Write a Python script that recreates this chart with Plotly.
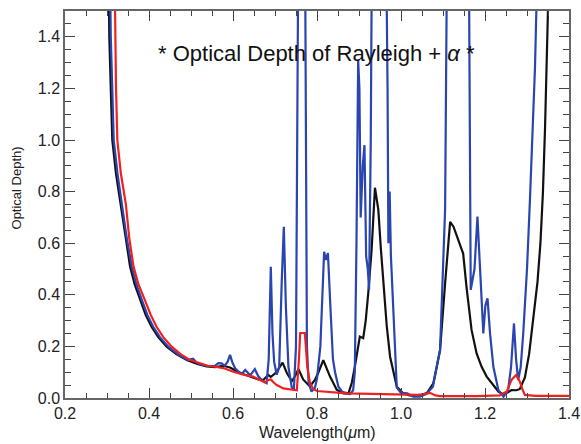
import plotly.graph_objects as go

# ---- data ----
lam_black = [0.300, 0.3055, 0.309, 0.3126, 0.3214, 0.3326, 0.343, 0.355, 0.366, 0.379, 0.392, 0.406,
             0.422, 0.442, 0.465, 0.490, 0.515, 0.537, 0.557, 0.577, 0.593, 0.609, 0.617, 0.632,
             0.648, 0.660, 0.672, 0.684, 0.690, 0.700, 0.708, 0.718, 0.728, 0.740, 0.748, 0.756,
             0.767, 0.783, 0.795, 0.803, 0.815, 0.823, 0.831, 0.847, 0.855, 0.875, 0.883, 0.890,
             0.902, 0.910, 0.916, 0.922, 0.930, 0.938, 0.946, 0.952, 0.958, 0.966, 0.974, 0.990,
             1.005, 1.020, 1.045, 1.062, 1.077, 1.093, 1.105, 1.117, 1.125, 1.140, 1.148, 1.156,
             1.168, 1.180, 1.192, 1.204, 1.216, 1.232, 1.242, 1.255, 1.263, 1.275, 1.283, 1.295,
             1.305, 1.315, 1.325, 1.332, 1.338, 1.343, 1.350, 1.356]
tau_black = [2.2, 1.40, 1.20, 1.00, 0.87, 0.75, 0.62, 0.509, 0.44, 0.38, 0.322, 0.276,
             0.236, 0.199, 0.170, 0.147, 0.132, 0.122, 0.120, 0.125, 0.118, 0.104, 0.097, 0.088,
             0.078, 0.072, 0.070, 0.089, 0.082, 0.095, 0.112, 0.137, 0.098, 0.065, 0.085, 0.112,
             0.072, 0.045, 0.070, 0.098, 0.147, 0.115, 0.083, 0.032, 0.024, 0.018, 0.060, 0.120,
             0.238, 0.232, 0.300, 0.406, 0.574, 0.815, 0.730, 0.580, 0.444, 0.280, 0.160, 0.044,
             0.018, 0.010, 0.008, 0.020, 0.057, 0.186, 0.444, 0.683, 0.664, 0.593, 0.560, 0.430,
             0.264, 0.173, 0.121, 0.083, 0.057, 0.025, 0.015, 0.022, 0.031, 0.030, 0.035, 0.080,
             0.170, 0.300, 0.450, 0.600, 0.800, 1.050, 1.500, 1.900]

lam_blue = [0.303, 0.309, 0.3125, 0.316, 0.325, 0.336, 0.347, 0.359, 0.370, 0.383, 0.396, 0.410,
            0.426, 0.446, 0.468, 0.492, 0.505, 0.515, 0.537, 0.557, 0.565, 0.573, 0.580, 0.587,
            0.593, 0.598, 0.605, 0.615, 0.622, 0.629, 0.636, 0.641, 0.652, 0.660, 0.668, 0.680,
            0.685, 0.690, 0.694, 0.698, 0.704, 0.710, 0.716, 0.721, 0.726, 0.732, 0.740, 0.745,
            0.750, 0.755, 0.760, 0.764, 0.768, 0.772, 0.776, 0.780, 0.787, 0.795, 0.800, 0.808,
            0.814, 0.817, 0.821, 0.826, 0.832, 0.838, 0.843, 0.851, 0.863, 0.879, 0.886, 0.890,
            0.894, 0.898, 0.901, 0.904, 0.909, 0.913, 0.917, 0.921, 0.924, 0.928, 0.931, 0.945,
            0.960, 0.966, 0.968, 0.970, 0.973, 0.976, 0.983, 0.990, 1.000, 1.015, 1.029, 1.045,
            1.060, 1.076, 1.093, 1.105, 1.109, 1.120, 1.150, 1.162, 1.166, 1.175, 1.182, 1.190,
            1.196, 1.201, 1.206, 1.212, 1.220, 1.232, 1.244, 1.255, 1.262, 1.269, 1.274, 1.279,
            1.285, 1.291, 1.300, 1.307, 1.315, 1.319, 1.323, 1.330]
tau_blue = [2.2, 1.40, 1.20, 1.00, 0.87, 0.75, 0.62, 0.509, 0.44, 0.38, 0.322, 0.276,
            0.236, 0.199, 0.170, 0.147, 0.152, 0.135, 0.124, 0.125, 0.135, 0.134, 0.125, 0.140,
            0.167, 0.140, 0.115, 0.100, 0.095, 0.109, 0.095, 0.088, 0.112, 0.085, 0.070, 0.058,
            0.150, 0.509, 0.250, 0.140, 0.090, 0.120, 0.450, 0.664, 0.350, 0.121, 0.040, 0.035,
            0.200, 1.600, 3.000, 2.000, 2.600, 1.600, 0.200, 0.060, 0.025, 0.040, 0.075, 0.200,
            0.450, 0.567, 0.535, 0.562, 0.350, 0.150, 0.100, 0.044, 0.018, 0.015, 0.030, 0.100,
            0.600, 1.310, 1.200, 0.700, 0.900, 0.980, 0.550, 0.500, 0.420, 1.000, 1.800, 3.000,
            2.500, 1.600, 1.200, 0.600, 0.800, 0.550, 0.300, 0.040, 0.020, 0.018, 0.005, 0.005,
            0.015, 0.044, 0.186, 0.730, 1.600, 3.000, 3.000, 1.600, 0.419, 0.500, 0.703, 0.450,
            0.250, 0.360, 0.386, 0.250, 0.120, 0.030, 0.005, 0.030, 0.120, 0.289, 0.150, 0.070,
            0.120, 0.250, 0.500, 0.767, 1.100, 1.280, 1.550, 2.500]

lam_red = [0.314, 0.319, 0.3215, 0.3246, 0.333, 0.345, 0.353, 0.363, 0.375, 0.390, 0.404, 0.418,
           0.434, 0.454, 0.475, 0.498, 0.520, 0.540, 0.557, 0.577, 0.601, 0.625, 0.648, 0.665,
           0.676, 0.684, 0.690, 0.697, 0.704, 0.720, 0.743, 0.752, 0.757, 0.760, 0.771, 0.777,
           0.783, 0.791, 0.800, 0.847, 0.871, 0.930, 0.990, 1.040, 1.055, 1.069, 1.082, 1.093,
           1.180, 1.235, 1.252, 1.263, 1.274, 1.283, 1.290, 1.295, 1.320, 1.400]
tau_red = [2.2, 1.40, 1.20, 1.00, 0.87, 0.75, 0.62, 0.51, 0.44, 0.38, 0.322, 0.276,
           0.236, 0.199, 0.170, 0.147, 0.134, 0.125, 0.121, 0.116, 0.102, 0.090, 0.083, 0.068,
           0.060, 0.070, 0.072, 0.060, 0.050, 0.037, 0.030, 0.030, 0.150, 0.252, 0.252, 0.120,
           0.060, 0.035, 0.027, 0.022, 0.018, 0.016, 0.014, 0.012, 0.015, 0.020, 0.010, 0.007,
           0.007, 0.010, 0.025, 0.070, 0.089, 0.063, 0.030, 0.012, 0.008, 0.008]

x_ticks = [0.2, 0.4, 0.6, 0.8, 1.0, 1.2, 1.4]
y_ticks = [0.0, 0.2, 0.4, 0.6, 0.8, 1.0, 1.2, 1.4]

title_text = "* Optical Depth of Rayleigh + <i>α</i> *"
x_title = "Wavelength(<i>μ</i>m)"
y_title = "Optical Depth)"

FONT = "Liberation Sans, Arial, Helvetica, sans-serif"

fig = go.Figure()
fig.add_trace(go.Scatter(x=lam_black, y=tau_black, mode="lines",
                         line=dict(color="#111111", width=2.2), showlegend=False))
fig.add_trace(go.Scatter(x=lam_blue, y=tau_blue, mode="lines",
                         line=dict(color="#2a44b0", width=2.2), showlegend=False))
fig.add_trace(go.Scatter(x=lam_red, y=tau_red, mode="lines",
                         line=dict(color="#f02020", width=2.2), showlegend=False))

axis_common = dict(
    showline=True, linecolor="#666666", linewidth=1.5, mirror="ticks",
    ticks="inside", tickcolor="#444444", ticklen=10, tickwidth=1,
    showgrid=False, zeroline=False, tickformat=".1f", automargin=False,
    tickfont=dict(family=FONT, size=16, color="#222222"),
)

fig.update_xaxes(range=[0.2, 1.4], tickvals=x_ticks,
                 minor=dict(dtick=0.05, tick0=0.2, ticks="inside", ticklen=5,
                            tickcolor="#444444", showgrid=False),
                 **axis_common)
fig.update_yaxes(range=[0.0, 1.5], tickvals=y_ticks,
                 minor=dict(dtick=0.05, tick0=0.0, ticks="inside", ticklen=6,
                            tickcolor="#444444", showgrid=False),
                 **axis_common)

fig.add_annotation(x=0.798, y=1.337, xref="x", yref="y",
                   text=title_text, showarrow=False,
                   font=dict(family=FONT, size=22, color="#111111"))
fig.add_annotation(x=0.5, y=-0.088, xref="paper", yref="paper", text=x_title,
                   showarrow=False, yanchor="middle",
                   font=dict(family=FONT, size=16, color="#222222"))
fig.add_annotation(x=-0.096, y=0.543, xref="paper", yref="paper", text=y_title,
                   showarrow=False, textangle=-90, xanchor="center",
                   font=dict(family=FONT, size=13, color="#222222"))

fig.update_layout(
    width=581, height=444,
    margin=dict(l=65, r=12, t=11, b=46),
    paper_bgcolor="white", plot_bgcolor="white",
)

fig.write_html("out.html")
